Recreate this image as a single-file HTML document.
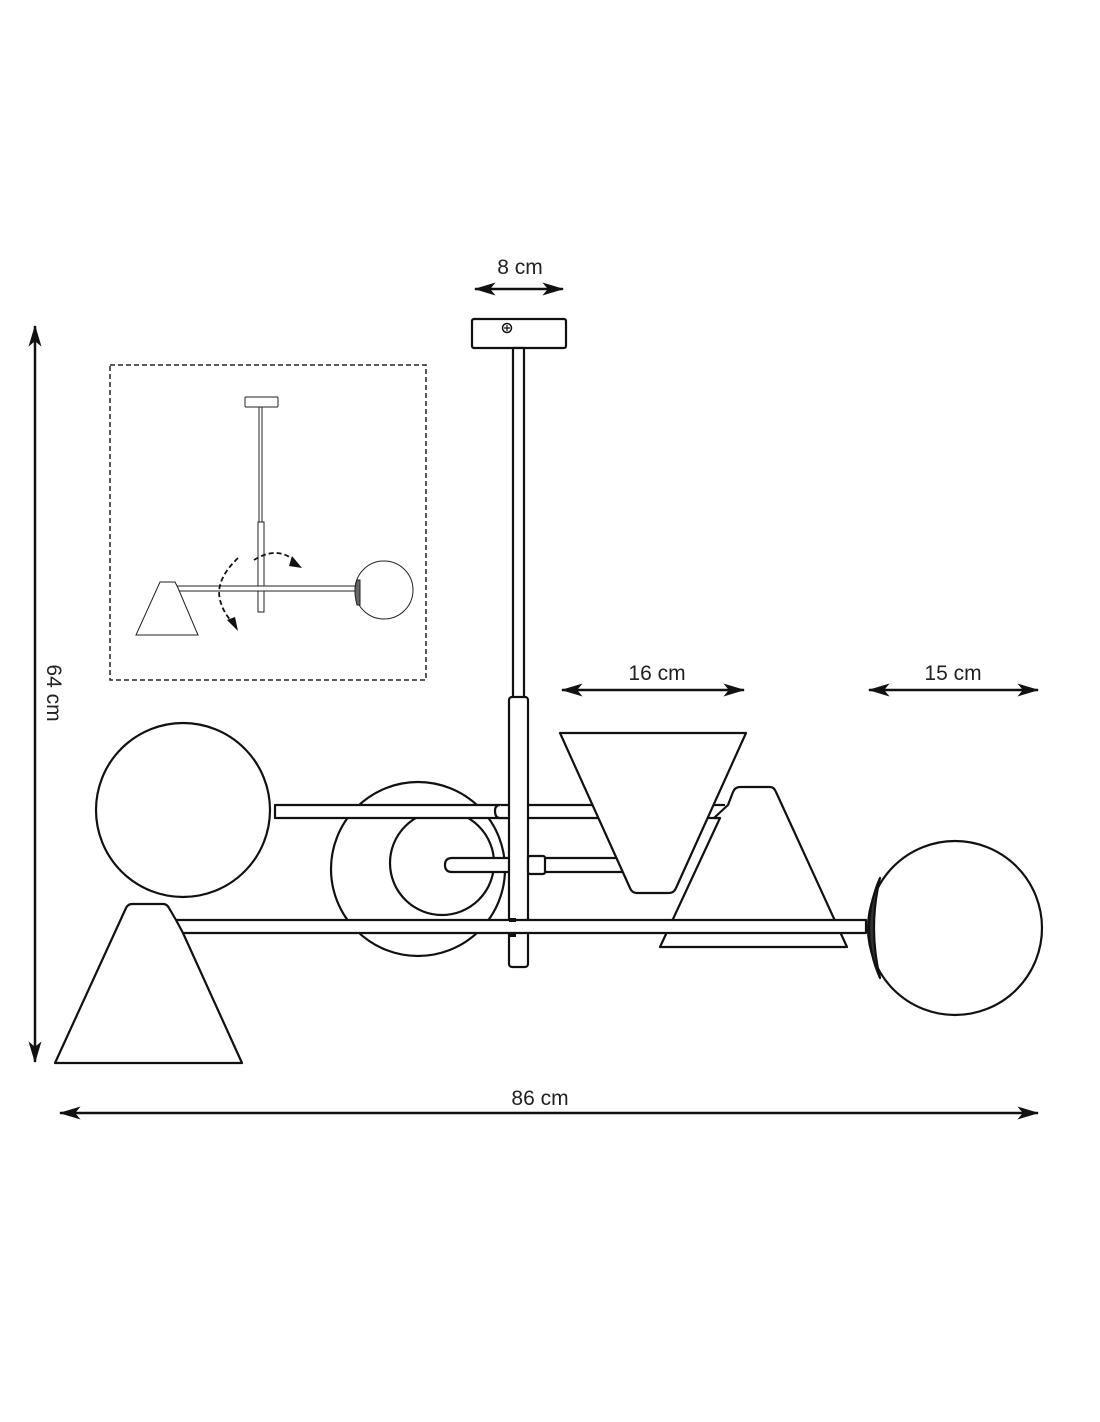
<!DOCTYPE html>
<html><head><meta charset="utf-8"><style>
html,body{margin:0;padding:0;background:#fff;}
svg{display:block;}
text{font-family:"Liberation Sans",sans-serif;font-size:21px;fill:#222;}
</style></head><body>
<svg width="1100" height="1422" viewBox="0 0 1100 1422" xmlns="http://www.w3.org/2000/svg">
<defs>
<marker id="ab" viewBox="0 0 20 12" markerWidth="24" markerHeight="13" refX="19" refY="6" orient="auto-start-reverse" markerUnits="userSpaceOnUse"><path d="M0,0 L20,6 L0,12 L5,6 Z" fill="#111"/></marker>
</defs>
<g stroke="#111" stroke-width="2.5" fill="none">
<line x1="35" y1="326" x2="35" y2="1062" marker-start="url(#ab)" marker-end="url(#ab)"/>
<line x1="60" y1="1113" x2="1038" y2="1113" marker-start="url(#ab)" marker-end="url(#ab)"/>
<line x1="475" y1="289" x2="563" y2="289" marker-start="url(#ab)" marker-end="url(#ab)"/>
<line x1="562" y1="690" x2="744" y2="690" marker-start="url(#ab)" marker-end="url(#ab)"/>
<line x1="869" y1="690" x2="1038" y2="690" marker-start="url(#ab)" marker-end="url(#ab)"/>
</g>
<text x="520" y="274" text-anchor="middle">8 cm</text>
<text x="657" y="680" text-anchor="middle">16 cm</text>
<text x="953" y="680" text-anchor="middle">15 cm</text>
<text x="540" y="1105" text-anchor="middle">86 cm</text>
<text transform="translate(47,693) rotate(90)" text-anchor="middle">64 cm</text>

<rect x="110" y="365" width="316" height="315" fill="none" stroke="#222" stroke-width="1.5" stroke-dasharray="5,3"/>
<g stroke="#222" stroke-width="1" fill="#fff">
<rect x="245" y="397" width="33" height="10" rx="1"/>
<rect x="259" y="407" width="3" height="115"/>
<rect x="258" y="522" width="6" height="90"/>
<rect x="177" y="586" width="180" height="5"/>
<path d="M160,582 L175,582 L178,588 L198,635 L136,635 Z"/>
<circle cx="384" cy="590" r="29"/>
<path d="M357,580 Q353,590 357,605 L360,605 L360,580 Z" fill="#666"/>
</g>
<g stroke="#111" stroke-width="1.8" fill="none" stroke-dasharray="5,3">
<path d="M254,560 Q278,545 296,562"/>
<path d="M238,558 Q215,580 220,600 Q223,612 232,622"/>
</g>
<path d="M292,556 L302,568 L289,566 Z" fill="#111"/>
<path d="M227,620 L238,631 L235,617 Z" fill="#111"/>

<g stroke="#111" stroke-width="2.2" fill="#fff" stroke-linejoin="round">
<rect x="472" y="319" width="94" height="29" rx="2"/>
<circle cx="507" cy="328" r="4.5" stroke-width="1.5"/>
<path d="M504,328 H510 M507,325 V331" stroke-width="1.2"/>
<rect x="513" y="348" width="11" height="350"/>
<circle cx="418" cy="869" r="87"/>
<circle cx="442" cy="863" r="52"/>
<path d="M628,858 L452,858 Q445,858 445,865 Q445,872 452,872 L628,872"/>
<path d="M725,805 L275,805 L275,818 L725,818"/>
<rect x="509" y="697" width="19" height="270" rx="3"/>
<path d="M500,805 Q495,805 495,811 Q495,818 500,818 L509,818" fill="#fff"/>
<rect x="528" y="856" width="17" height="18" rx="2"/>
<path d="M740,787 L770,787 Q774,787 776,792 L847,947 L660,947 L720,818 L714,818 L728,805 L733,792 Q735,787 740,787 Z"/>
<path d="M560,733 L746,733 L676,888 Q674,893 669,893 L637,893 Q632,893 630,888 Z"/>
<path d="M176,920 L866,920 L866,933 L183,933"/>
<circle cx="183" cy="810" r="87"/>
<path d="M132,904 L163,904 Q167,904 169,908 L176,920 L183,933 L242,1063 L55,1063 L126,908 Q128,904 132,904 Z"/>
<circle cx="955" cy="928" r="87"/>
<path d="M880,878 Q858,928 880,978 Q868,928 880,878 Z" fill="#333"/>
<rect x="509" y="918" width="7" height="4" fill="#111" stroke="none"/>
<rect x="509" y="933" width="7" height="4" fill="#111" stroke="none"/>
</g>
</svg>
</body></html>
